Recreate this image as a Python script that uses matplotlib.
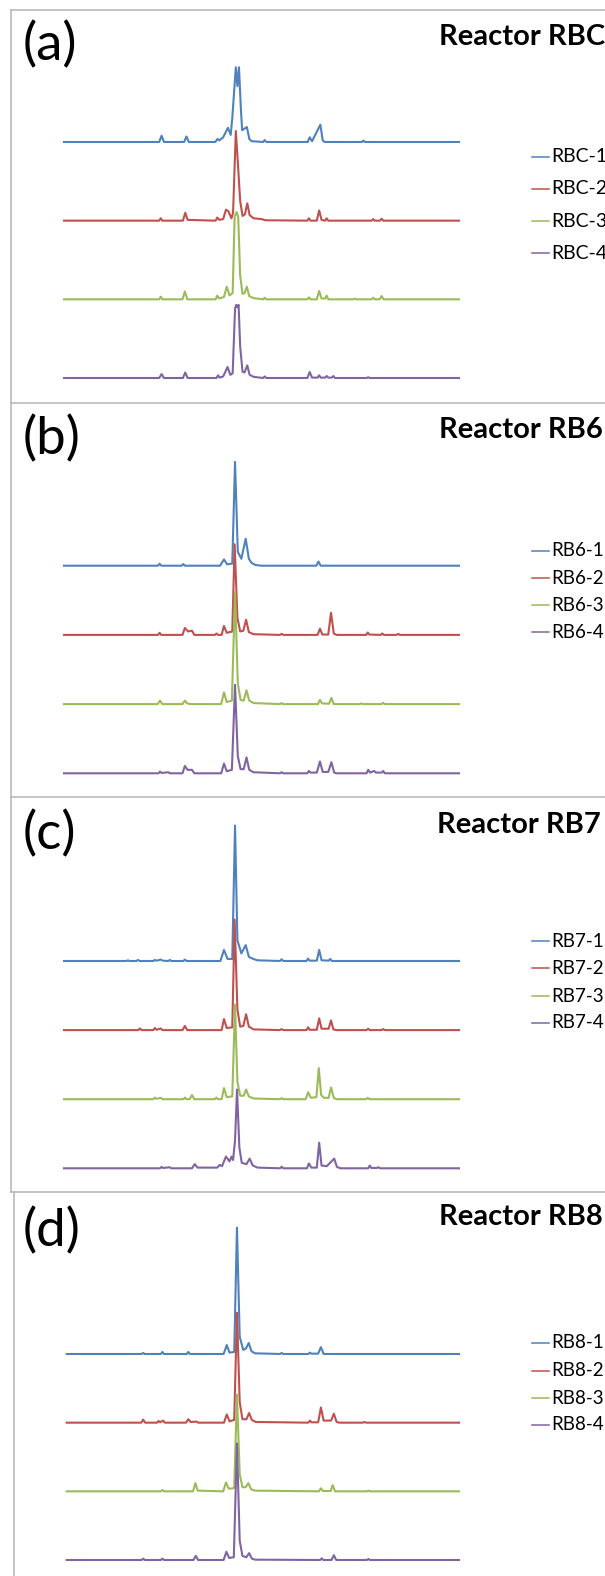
import matplotlib
matplotlib.use('Agg')
import matplotlib.pyplot as plt
from matplotlib.lines import Line2D

# canvas size in pixels
W, H = 605, 1576

# Excel-2007 series colours
colors = ['#4F81BD', '#C0504D', '#9BBB59', '#8064A2']

# ---- traces: (position, intensity) vertices ----
# Reactor RBC
rbc_1 = [(0, 0), (24.1, 0), (24.7, 8), (25.3, 0), (30.4, 0), (31.0, 7), (31.6, 0),
         (38.3, 0), (38.9, 4), (39.3, 2), (40.3, 6), (41.5, 18), (42.2, 9), (42.6, 30),
         (43.5, 95), (43.9, 71), (44.3, 95), (44.8, 40), (45.1, 15), (46.3, 19), (46.9, 4),
         (47.5, 1), (50.4, 0), (50.8, 2.5), (51.2, 0), (61.7, 0), (62.2, 6), (62.8, 1),
         (64.9, 22), (65.5, 2), (66.0, 0), (75.4, 0), (75.8, 1.7), (76.2, 0), (100, 0)]
rbc_2 = [(0, 0), (24.1, 0), (24.5, 3), (24.9, 0), (30.1, 0), (30.7, 10), (31.3, 1),
         (38.4, 0), (38.8, 4), (39.3, 1), (40.3, 2), (41.0, 14), (41.6, 12), (42.4, 3),
         (42.8, 10), (43.5, 114), (44.0, 75), (44.6, 25), (45.2, 6), (45.8, 8), (46.4, 22),
         (47.0, 7), (48.0, 3), (50.0, 2), (51.0, 0.5), (61.6, 0), (62.0, 3), (62.4, 0),
         (64.0, 0), (64.6, 13), (65.2, 1), (66.1, 0), (66.5, 3), (66.9, 0), (77.9, 0),
         (78.3, 2), (78.7, 0), (80.0, 0), (80.4, 2.5), (80.8, 0), (100, 0)]
rbc_3 = [(0, 0), (24.1, 0), (24.5, 3.4), (24.9, 0), (30.0, 0), (30.6, 10), (31.2, 0),
         (38.4, 0), (38.8, 4.7), (39.3, 1), (40.5, 3), (41.2, 16), (41.9, 5), (42.7, 8),
         (43.2, 105), (43.7, 111), (44.1, 105), (44.6, 30), (45.2, 7), (45.7, 8), (46.3, 16),
         (46.9, 4), (48.0, 1.5), (50.4, 0), (50.8, 2), (51.2, 0), (61.6, 0), (62.0, 2.5),
         (62.4, 0), (64.0, 0), (64.6, 10.6), (65.2, 1), (66.1, 1), (66.5, 4.7), (66.9, 0),
         (73.3, 0), (73.6, 1), (73.9, 0), (77.9, 0), (78.3, 2), (78.7, 0), (79.9, 0),
         (80.4, 4.2), (80.9, 0), (100, 0)]
rbc_4 = [(0, 0), (24.1, 0), (24.7, 5), (25.3, 0), (30.1, 0), (30.7, 7), (31.3, 0),
         (38.6, 0), (39.0, 3.4), (39.4, 0.5), (40.3, 2), (41.4, 14), (42.1, 4), (42.7, 6),
         (43.3, 88), (43.6, 93), (43.9, 90), (44.2, 93), (44.6, 40), (45.2, 8), (45.7, 7),
         (46.4, 16), (47.0, 4), (48.0, 1.5), (50.4, 0), (50.8, 2), (51.2, 0), (61.6, 0),
         (62.2, 7.6), (62.8, 0.5), (64.2, 0.5), (64.6, 3.4), (65.0, 0.5), (66.1, 0.5),
         (66.5, 2.5), (66.9, 0.5), (67.8, 0.5), (68.2, 2.5), (68.6, 0), (76.6, 0), (77.0, 1),
         (77.4, 0), (100, 0)]

# Reactor RB6
rb6_1 = [(0, 0), (23.8, 0), (24.2, 3), (24.6, 0), (29.8, 0), (30.2, 2.4), (30.6, 0),
         (39.5, 0), (40.5, 9), (41.3, 2), (42.6, 3), (43.3, 150), (44.0, 20), (44.9, 10),
         (46.0, 39), (46.8, 10), (47.5, 4), (48.5, 1), (50.0, 0), (63.9, 0), (64.4, 6),
         (65.0, 0), (100, 0)]
rb6_2 = [(0, 0), (23.8, 0), (24.2, 3), (24.6, 0), (30.0, 0), (30.6, 10), (31.4, 5),
         (32.4, 6), (33.0, 0), (38.2, 0), (38.6, 2), (39.0, 0), (39.9, 0), (40.5, 13),
         (41.2, 3), (42.6, 5), (43.2, 131), (43.9, 25), (44.6, 5), (45.4, 6), (46.1, 22),
         (46.8, 4), (48.0, 1), (54.7, 0), (55.1, 1.5), (55.5, 0), (64.2, 0), (64.8, 9),
         (65.4, 0.5), (66.9, 0.5), (67.6, 32), (68.3, 2), (69.0, 0), (76.5, 0), (76.9, 3.4),
         (77.3, 0.5), (80.2, 0), (80.6, 2), (81.0, 0), (84.2, 0), (84.6, 1.5), (85.0, 0),
         (100, 0)]
rb6_3 = [(0, 0), (23.7, 0), (24.3, 5), (24.9, 0), (30.0, 0), (30.6, 5), (31.2, 1),
         (32.0, 0), (39.8, 0), (40.5, 17), (41.2, 3), (42.5, 5), (43.3, 162), (44.0, 30),
         (44.7, 6), (45.5, 5), (46.2, 20), (46.9, 5), (48.0, 1.5), (54.7, 0), (55.1, 1.5),
         (55.5, 0), (64.3, 0), (64.8, 6), (65.3, 1), (67.1, 0.5), (67.7, 9), (68.3, 0),
         (74.9, 0), (75.3, 1), (75.7, 0), (80.4, 0), (80.8, 2), (81.2, 0), (100, 0)]
rb6_4 = [(0, 0), (23.9, 0), (24.3, 2.4), (24.7, 0.5), (26.4, 1.5), (26.8, 0), (30.0, 0),
         (30.6, 10.6), (31.3, 5), (32.4, 5), (33.0, 0), (39.8, 0), (40.5, 14), (41.2, 3),
         (42.5, 5), (43.3, 128), (44.0, 25), (44.7, 6), (45.5, 6), (46.2, 23), (46.9, 5),
         (48.0, 1.5), (54.7, 0), (55.1, 1.5), (55.5, 0), (61.6, 0), (62.0, 3.4), (62.4, 1),
         (64.0, 1), (64.8, 17), (65.5, 2), (66.9, 2), (67.7, 16), (68.4, 1), (69.0, 0),
         (76.6, 0), (77.0, 5), (77.5, 1), (78.5, 3.4), (79.0, 1), (80.4, 1), (80.8, 3.4),
         (81.2, 0), (100, 0)]

# Reactor RB7
rb7_1 = [(0, 0), (15.8, 0), (16.2, 1), (16.6, 0), (18.3, 0), (18.75, 1.5), (19.2, 0),
         (22.6, 0), (23.0, 1.5), (23.4, 0.5), (24.5, 2), (25.0, 0.5), (26.4, 0), (26.8, 1.5),
         (27.2, 0), (30.2, 0), (30.6, 2), (31.0, 0), (39.6, 0), (40.5, 16), (41.4, 3),
         (42.6, 3), (43.3, 196), (43.9, 30), (44.9, 11), (46.0, 23), (46.8, 6), (47.9, 3),
         (49.0, 1), (54.7, 0), (55.1, 2.4), (55.5, 0), (61.4, 0), (61.8, 3.4), (62.2, 0.5),
         (64.0, 0.5), (64.6, 16), (65.2, 1), (67.0, 0.5), (67.4, 3), (67.8, 0), (100, 0)]
rb7_2 = [(0, 0), (18.8, 0), (19.2, 2.4), (19.6, 0), (22.6, 0), (23.0, 3), (23.5, 0.5),
         (24.5, 2.4), (24.9, 0), (30.0, 0), (30.6, 6), (31.2, 0), (39.9, 0), (40.5, 16),
         (41.2, 3), (42.6, 4), (43.2, 160), (43.9, 30), (44.6, 5), (45.4, 6), (46.1, 23),
         (46.8, 5), (48.0, 1), (54.7, 0), (55.1, 1.5), (55.5, 0), (61.4, 0), (61.8, 4),
         (62.2, 0.5), (64.0, 0.5), (64.6, 17), (65.2, 2), (67.0, 2), (67.6, 14), (68.2, 1),
         (69.0, 0), (76.6, 0), (77.0, 2), (77.4, 0), (80.4, 0), (80.8, 1.5), (81.2, 0),
         (100, 0)]
rb7_3 = [(0, 0), (22.6, 0), (23.0, 2.4), (23.4, 0.5), (24.5, 2), (24.9, 0), (30.2, 0),
         (30.6, 2.4), (31.0, 0), (31.8, 0), (32.4, 6), (33.0, 0), (38.2, 0), (38.6, 2.4),
         (39.0, 0), (39.9, 0), (40.5, 16), (41.2, 3), (42.6, 4), (43.3, 137), (43.9, 25),
         (44.6, 5), (45.5, 5), (46.1, 14), (46.8, 4), (48.0, 1), (54.7, 0), (55.1, 1.5),
         (55.5, 0), (61.2, 0), (61.8, 10), (62.5, 2), (63.9, 3), (64.5, 45), (65.1, 6),
         (65.8, 2), (67.0, 2), (67.6, 17), (68.3, 2), (69.0, 0), (76.5, 0), (76.9, 2),
         (77.3, 0), (100, 0)]
rb7_4 = [(0, 0), (24.3, 0), (24.7, 2), (25.1, 0.5), (26.8, 1.5), (27.2, 0), (32.4, 0),
         (33.1, 6), (33.8, 1), (38.8, 1), (39.4, 5), (40.0, 3), (41.0, 17), (41.9, 10),
         (42.4, 17), (42.8, 12), (43.3, 40), (43.8, 114), (44.4, 30), (45.0, 8), (46.2, 6),
         (47.0, 14), (47.8, 4), (49.0, 1), (54.7, 0), (55.1, 2.4), (55.5, 0), (61.5, 0),
         (62.0, 7), (62.6, 1), (64.0, 1), (64.6, 37), (65.2, 4), (66.5, 3), (68.4, 14),
         (69.1, 2), (70.0, 0), (77.0, 0), (77.4, 4), (77.8, 0.5), (79.2, 0.5), (79.6, 1.5),
         (80.0, 0), (100, 0)]

# Reactor RB8
rb8_1 = [(0, 0), (19.1, 0), (19.5, 1.5), (19.9, 0), (24.0, 0), (24.4, 3), (24.8, 0),
         (30.6, 0), (31.0, 3), (31.4, 0), (40.0, 0), (40.8, 13), (41.5, 2), (42.7, 3),
         (43.4, 184), (44.1, 25), (45.0, 6), (45.7, 8), (46.4, 16), (47.1, 4), (48.0, 1),
         (54.4, 0), (54.8, 1.5), (55.2, 0), (61.6, 0), (62.0, 2), (62.4, 0.5), (64.1, 0.5),
         (64.8, 10), (65.5, 0), (100, 0)]
rb8_2 = [(0, 0), (19.0, 0), (19.5, 4.4), (20.0, 0), (23.0, 0), (23.4, 2.4), (23.8, 0.5),
         (24.6, 3), (25.0, 0), (30.4, 0), (31.0, 5), (31.6, 1), (33.1, 1.5), (33.5, 0),
         (40.1, 0), (40.8, 12), (41.5, 2), (42.7, 4), (43.4, 160), (44.1, 30), (44.8, 5),
         (45.8, 5), (46.5, 14), (47.2, 4), (48.2, 1), (61.6, 0), (62.0, 3), (62.4, 0.5),
         (64.1, 0.5), (64.8, 22), (65.5, 3), (67.4, 3), (68.1, 13), (68.8, 1), (69.5, 0),
         (75.5, 0), (75.9, 1), (76.3, 0), (100, 0)]
rb8_3 = [(0, 0), (24.0, 0), (24.4, 2), (24.8, 0), (32.2, 0), (32.8, 12), (33.4, 1),
         (39.9, 0), (40.6, 13), (41.3, 4), (41.9, 4), (42.7, 5), (43.4, 141), (44.1, 25),
         (44.8, 6), (45.6, 6), (46.3, 12), (47.0, 3), (48.0, 1), (64.3, 0), (64.8, 4.4),
         (65.3, 0.5), (67.3, 0.5), (67.8, 9), (68.4, 0), (76.5, 0), (76.9, 1), (77.3, 0),
         (100, 0)]
rb8_4 = [(0, 0), (19.1, 0), (19.5, 2), (19.9, 0), (24.0, 0), (24.4, 2), (24.8, 0),
         (32.3, 0), (32.9, 6), (33.5, 0), (40.0, 0), (40.7, 12), (41.4, 3), (42.6, 4),
         (43.4, 170), (44.1, 28), (44.8, 6), (45.8, 4), (46.5, 10), (47.2, 2), (48.0, 0.5),
         (64.6, 0), (65.0, 2.4), (65.4, 0), (67.5, 0), (68.1, 7), (68.7, 0), (76.5, 0),
         (76.9, 1.5), (77.3, 0), (100, 0)]

letters = ['(a)', '(b)', '(c)', '(d)']
titles = ['Reactor RBC', 'Reactor RB6', 'Reactor RB7', 'Reactor RB8']
labels = [['RBC-1', 'RBC-2', 'RBC-3', 'RBC-4'],
          ['RB6-1', 'RB6-2', 'RB6-3', 'RB6-4'],
          ['RB7-1', 'RB7-2', 'RB7-3', 'RB7-4'],
          ['RB8-1', 'RB8-2', 'RB8-3', 'RB8-4']]
traces = [[rbc_1, rbc_2, rbc_3, rbc_4],
          [rb6_1, rb6_2, rb6_3, rb6_4],
          [rb7_1, rb7_2, rb7_3, rb7_4],
          [rb8_1, rb8_2, rb8_3, rb8_4]]
offsets = [300, 200, 100, 0]

# layout in pixels
plot_x = [(64, 459), (64, 459), (64, 459), (66.7, 459)]
base_px = [378, 773.3, 1168.3, 1560]      # pixel row of the lowest trace's baseline
unit_px = [0.7867, 0.692, 0.691, 0.6867]  # pixels per intensity unit
y_hi = [420, 480, 510, 500]
letter_top = [21, 415, 810, 1207]
title_base = [45, 438, 833, 1225]
title_right = [605, 603, 601, 603]
legend_y = [[156.5, 188.5, 221, 253], [551, 578, 605, 632],
            [941, 968, 996, 1023], [1343, 1371, 1398, 1425]]
legend_fs = [14, 13.5, 13.5, 13.5]

fig = plt.figure(figsize=(W / 100, H / 100), dpi=100)
bg = fig.add_axes([0, 0, 1, 1])
bg.set_xlim(0, W)
bg.set_ylim(H, 0)
bg.axis('off')

# panel frames
fc = '#b4b4b4'
flw = 1.1
bg.plot([11, W], [9.5, 9.5], color=fc, lw=flw)
bg.plot([11, 11], [9.5, 1192], color=fc, lw=flw)
for yy in [403, 797, 1192]:
    bg.plot([11, W], [yy, yy], color=fc, lw=flw)
bg.plot([14, 14], [1192, H], color=fc, lw=flw)

font = 'Lato'

for p in range(4):
    x0, x1 = plot_x[p]
    ylo = -10
    y_bot = base_px[p] - ylo * unit_px[p]
    y_top = base_px[p] - y_hi[p] * unit_px[p]
    ax = fig.add_axes([x0 / W, 1 - y_bot / H, (x1 - x0) / W, (y_bot - y_top) / H])
    ax.set_xlim(0, 100)
    ax.set_ylim(ylo, y_hi[p])
    ax.axis('off')
    for k in range(4):
        xs = [v[0] for v in traces[p][k]]
        ys = [v[1] + offsets[k] for v in traces[p][k]]
        ax.plot(xs, ys, color=colors[k], lw=1.5, solid_joinstyle='round', clip_on=False)

    bg.text(23, letter_top[p], letters[p], fontsize=38, family=font,
            ha='left', va='top')
    bg.text(title_right[p], title_base[p], titles[p], fontsize=21, family=font,
            fontweight='bold', ha='right', va='baseline')
    for k in range(4):
        yy = legend_y[p][k]
        bg.add_line(Line2D([532, 549], [yy, yy], color=colors[k], lw=1.1))
        bg.text(551.5, yy, labels[p][k], fontsize=legend_fs[p], family=font,
                ha='left', va='center')

fig.savefig('out.png', dpi=100)
